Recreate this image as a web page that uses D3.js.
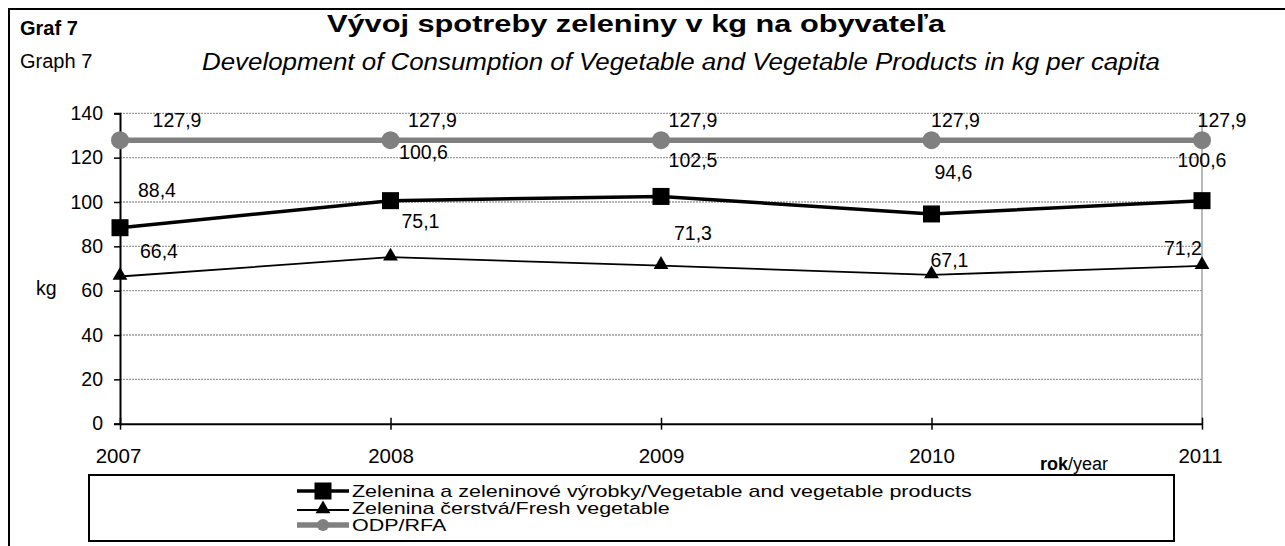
<!DOCTYPE html>
<html>
<head>
<meta charset="utf-8">
<script src="https://cdn.jsdelivr.net/npm/d3@7/dist/d3.min.js"></script>
<style>
  html, body { margin: 0; padding: 0; background: #fff; }
  svg { display: block; font-family: "Liberation Sans", Arial, sans-serif; }
</style>
</head>
<body>
<svg id="chart" width="1285" height="546"></svg>
<script>
// ---- data ----
const years = ["2007", "2008", "2009", "2010", "2011"];
const vegProducts = [88.4, 100.6, 102.5, 94.6, 100.6];
const freshVeg = [66.4, 75.1, 71.3, 67.1, 71.2];
const rfa = [127.9, 127.9, 127.9, 127.9, 127.9];
const yTicks = [0, 20, 40, 60, 80, 100, 120, 140];
const seriesNames = [
  "Zelenina a zeleninové výrobky/Vegetable and vegetable products",
  "Zelenina čerstvá/Fresh vegetable",
  "ODP/RFA"
];
// label placement offsets (label centre relative to point)
const rfaLabelDx = [57, 42, 32, 24, 20];
const rfaLabelDy = [-20, -20, -20, -20, -20];
const vegLabelDx = [37, 33, 32, 22, 0];
const vegLabelDy = [-38, -49, -36, -42, -41];
const freshLabelDx = [39, 30, 32, 18, -19];
const freshLabelDy = [-25, -36, -33, -15, -18];

const fmt = v => d3.format(".1f")(v).replace(".", ",");

const svg = d3.select("#chart");

// outer frame
svg.append("path").attr("d", "M9,560 L9,9 L1300,9")
  .attr("fill", "none").attr("stroke", "#000").attr("stroke-width", 2);

// titles
svg.append("text").attr("x", 20).attr("y", 35).attr("font-size", 20).attr("font-weight", "bold").text("Graf 7");
svg.append("text").attr("x", 20).attr("y", 68).attr("font-size", 20).text("Graph 7");
svg.append("text").attr("x", 636).attr("y", 32).attr("text-anchor", "middle")
  .attr("font-size", 23).attr("font-weight", "bold")
  .attr("textLength", 618).attr("lengthAdjust", "spacingAndGlyphs")
  .text("Vývoj spotreby zeleniny v kg na obyvateľa");
svg.append("text").attr("x", 681).attr("y", 70).attr("text-anchor", "middle")
  .attr("font-size", 23).attr("font-style", "italic")
  .attr("textLength", 958).attr("lengthAdjust", "spacingAndGlyphs")
  .text("Development of Consumption of Vegetable and Vegetable Products  in kg per capita");

// scales
const x = d3.scalePoint().domain(years).range([120, 1202]);
const y = d3.scaleLinear().domain([0, 140]).range([423.7, 113.3]);

// gridlines
svg.append("g").selectAll("line").data(yTicks.filter(t => t > 0)).join("line")
  .attr("x1", 120).attr("x2", 1202)
  .attr("y1", d => y(d)).attr("y2", d => y(d))
  .attr("stroke", "#9a9a9a").attr("stroke-width", 1.3).attr("stroke-dasharray", "2,1");
// plot area right border
svg.append("line").attr("x1", 1202).attr("x2", 1202).attr("y1", y(140)).attr("y2", y(0))
  .attr("stroke", "#a0a0a0").attr("stroke-width", 1.5);

// y axis
const yAxis = svg.append("g").attr("transform", "translate(120,0)")
  .call(d3.axisLeft(y).tickValues(yTicks).tickSize(6).tickPadding(10).tickFormat(d3.format("d")));
yAxis.select(".domain").attr("stroke", "#000").attr("stroke-width", 2);
yAxis.selectAll(".tick line").attr("stroke", "#000").attr("stroke-width", 1.5);
yAxis.selectAll(".tick text").attr("font-size", 19.5).attr("fill", "#000")
  .attr("font-family", "Liberation Sans, Arial, sans-serif").attr("x", -17);

// x axis
const xAxis = svg.append("g").attr("transform", `translate(0,${y(0)})`)
  .call(d3.axisBottom(x).tickSize(6).tickSizeOuter(0));
xAxis.select(".domain").attr("stroke", "#000").attr("stroke-width", 2);
xAxis.selectAll(".tick line").attr("stroke", "#000").attr("stroke-width", 1.5).attr("y1", -6);
xAxis.selectAll(".tick text").attr("font-size", 20.5).attr("fill", "#000")
  .attr("font-family", "Liberation Sans, Arial, sans-serif")
  .attr("y", 39).attr("dy", 0)
  .attr("dx", (d, i) => i === 0 ? -2 : (i === 4 ? -2 : 0));

// axis titles
svg.append("text").attr("x", 36).attr("y", 295).attr("font-size", 19.5).text("kg");
const rok = svg.append("text").attr("x", 1040).attr("y", 470).attr("font-size", 18);
rok.append("tspan").attr("font-weight", "bold").text("rok");
rok.append("tspan").text("/year");

// series
const line = d3.line().x((d, i) => x(years[i])).y(d => y(d));

// RFA
svg.append("path").datum(rfa).attr("d", line).attr("fill", "none")
  .attr("stroke", "#808080").attr("stroke-width", 5.5);
svg.append("g").selectAll("circle").data(rfa).join("circle")
  .attr("cx", (d, i) => x(years[i])).attr("cy", d => y(d)).attr("r", 9).attr("fill", "#808080");

// vegetable products
svg.append("path").datum(vegProducts).attr("d", line).attr("fill", "none")
  .attr("stroke", "#000").attr("stroke-width", 3.5);
svg.append("g").selectAll("rect").data(vegProducts).join("rect")
  .attr("x", (d, i) => x(years[i]) - 8.5).attr("y", d => y(d) - 8.5)
  .attr("width", 17).attr("height", 17).attr("fill", "#000");

// fresh vegetable
svg.append("path").datum(freshVeg).attr("d", line).attr("fill", "none")
  .attr("stroke", "#000").attr("stroke-width", 1.8);
const tri = d3.symbol().type(d3.symbolTriangle).size(95);
svg.append("g").selectAll("path").data(freshVeg).join("path")
  .attr("d", tri).attr("transform", (d, i) => `translate(${x(years[i])},${y(d) - 1})`).attr("fill", "#000");

// data labels
function labels(vals, dx, dy) {
  svg.append("g").selectAll("text").data(vals).join("text")
    .attr("x", (d, i) => x(years[i]) + dx[i])
    .attr("y", (d, i) => y(d) + dy[i] + 7)
    .attr("text-anchor", "middle").attr("font-size", 19.5)
    .text(d => fmt(d));
}
labels(rfa, rfaLabelDx, rfaLabelDy);
labels(vegProducts, vegLabelDx, vegLabelDy);
labels(freshVeg, freshLabelDx, freshLabelDy);

// legend
svg.append("rect").attr("x", 89).attr("y", 475).attr("width", 1085).attr("height", 66)
  .attr("fill", "#fff").attr("stroke", "#000").attr("stroke-width", 2);
const legendRows = [491, 508, 525];
const lg = svg.append("g");
// symbols
lg.append("line").attr("x1", 297).attr("x2", 349).attr("y1", legendRows[0]).attr("y2", legendRows[0])
  .attr("stroke", "#000").attr("stroke-width", 3.5);
lg.append("rect").attr("x", 314.5).attr("y", legendRows[0] - 8.5).attr("width", 17).attr("height", 17).attr("fill", "#000");
lg.append("line").attr("x1", 297).attr("x2", 349).attr("y1", legendRows[1] + 2).attr("y2", legendRows[1] + 2)
  .attr("stroke", "#000").attr("stroke-width", 1.8);
lg.append("path").attr("d", tri).attr("transform", `translate(323,${legendRows[1] + 1})`).attr("fill", "#000");
lg.append("line").attr("x1", 297).attr("x2", 349).attr("y1", legendRows[2]).attr("y2", legendRows[2])
  .attr("stroke", "#808080").attr("stroke-width", 5.5);
lg.append("circle").attr("cx", 323).attr("cy", legendRows[2]).attr("r", 6).attr("fill", "#808080");
// texts
const lt = lg.selectAll("text.lt").data(seriesNames).join("text").attr("class", "lt")
  .attr("x", 0).attr("y", 0).attr("font-size", 16).text(d => d);
const w0 = lt.nodes()[0].getComputedTextLength();
const k = 620 / w0;
lt.attr("transform", (d, i) => `translate(352,${legendRows[i] + 6}) scale(${k},1)`);
</script>
</body>
</html>
